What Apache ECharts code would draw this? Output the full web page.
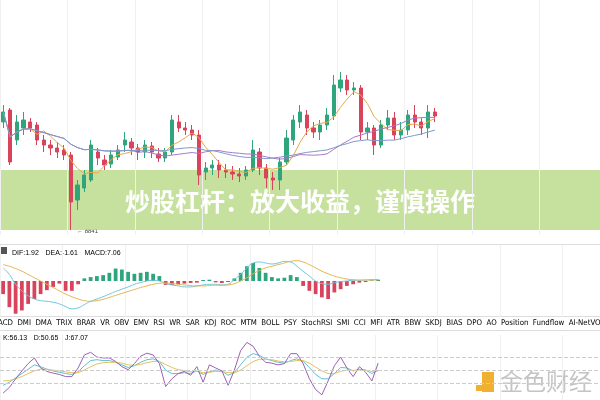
<!DOCTYPE html><html><head><meta charset="utf-8">
<script src="https://cdn.jsdelivr.net/npm/echarts@6/dist/echarts.min.js"></script>
<style>html,body{margin:0;padding:0;background:#fff}#c{width:600px;height:400px}</style></head><body><div id="c"></div>
<script>
// OHLC as [open, close, low, high]
const candles = [
[118,128,112,135],[130,78,75,132],[100,118,95,125],[112,120,105,128],[118,112,108,122],
[115,100,95,118],[100,95,88,105],[95,92,85,100],[92,88,82,98],[90,85,80,95],
[85,38,10,88],[40,55,30,60],[52,65,48,70],[60,95,58,100],[88,82,75,92],
[80,75,70,85],[76,85,72,90],[83,90,80,95],[95,100,88,108],[98,92,85,102],
[92,88,80,96],[88,95,82,100],[94,88,82,98],[86,82,78,92],[82,88,78,92],
[88,120,85,125],[118,112,108,125],[112,110,105,118],[110,105,100,115],[105,65,55,110],
[68,72,60,78],[72,75,65,80],[75,70,62,80],[70,68,62,76],[68,66,60,74],
[66,64,58,72],[64,70,60,74],[70,90,68,100],[88,72,65,92],[72,62,52,76],
[62,60,50,68],[60,78,50,82],[78,102,75,110],[100,120,95,125],[118,128,112,135],
[125,112,105,130],[112,108,102,118],[108,115,100,120],[115,125,110,132],[124,155,120,165],
[152,160,148,168],[160,150,145,165],[150,152,145,158],[152,108,100,155],[108,112,100,118],
[112,95,85,115],[95,115,92,120],[115,122,110,130],[122,105,100,128],[105,110,100,118],
[110,125,105,130],[125,118,112,135],[118,112,105,122],[112,128,102,135],[128,124,118,132]];
const macdHist = [-40,-80,-100,-90,-70,-55,-40,-28,-18,-8,-30,-30,-10,8,12,15,18,25,38,35,28,22,25,28,22,15,-12,-12,-10,-8,-6,-5,3,4,-4,-6,-3,8,25,45,55,40,25,12,8,10,18,12,-15,-30,-40,-50,-55,-35,-25,-15,-10,-5,-3,2,4];
const dif = [40,20,-10,-30,-45,-55,-60,-62,-65,-70,-78,-85,-82,-72,-62,-55,-48,-40,-32,-25,-18,-10,-5,0,2,0,-8,-12,-15,-18,-18,-15,-12,-10,-10,-12,-10,5,20,40,55,58,55,52,55,60,58,45,30,15,0,-8,-10,-5,-2,0,2,2,3,4,5];
const dea = [50,45,38,30,20,10,0,-10,-20,-30,-40,-48,-55,-60,-62,-60,-56,-50,-44,-38,-32,-26,-20,-15,-10,-7,-6,-8,-10,-12,-14,-15,-15,-14,-13,-13,-12,-8,0,10,22,32,40,45,50,55,60,62,58,50,40,30,22,15,10,6,4,3,3,3,4];
const kVals = [15,22,32,42,52,62,58,52,48,45,42,40,46,60,72,74,72,72,68,62,56,60,68,74,76,70,50,42,42,44,42,48,40,46,50,48,38,44,62,80,88,84,76,72,68,66,72,76,70,56,40,30,30,42,56,55,48,52,50,42,50];
const dVals = [25,26,30,35,42,48,52,52,50,48,46,44,44,50,58,64,67,68,68,66,62,61,63,67,70,70,63,56,51,49,46,47,44,45,47,47,44,44,50,60,70,75,75,74,71,69,70,72,72,66,57,48,42,42,47,50,49,50,50,47,48];
const jVals = [-3,10,30,48,65,78,55,47,43,40,35,35,55,85,91,80,78,78,70,58,51,65,82,89,85,65,12,30,42,47,38,58,22,62,55,48,15,50,95,114,105,82,68,66,62,65,88,88,65,30,5,-7,25,60,80,55,35,58,45,25,66];
const tabs = ['MACD','DMI','DMA','TRIX','BRAR','VR','OBV','EMV','RSI','WR','SAR','KDJ','ROC','MTM','BOLL','PSY','StochRSI','SMI','CCI','MFI','ATR','BBW','SKDJ','BIAS','DPO','AO','Position','Fundflow','AI-NetVOL'];

const UP='#2ea57c', DN='#d9435c';
const closes = candles.map(c=>c[1]);
function ma(n){return closes.map((_,i)=>{const s=closes.slice(Math.max(0,i-n+1),i+1);return +(s.reduce((a,b)=>a+b,0)/s.length).toFixed(2);});}
const topSlots = 89, lowSlots = 96;
const cat = n => Array.from({length:n},(_,i)=>i);
const xa = (g,n)=>({type:'category',gridIndex:g,data:cat(n),boundaryGap:true,axisLine:{show:false},axisTick:{show:false},axisLabel:{show:false},splitLine:{show:true,interval:9,lineStyle:{color:'#f1f1f1'}}});
const chart = echarts.init(document.getElementById('c'));
const tabRich = {n:{color:'#555',fontSize:7.8,fontFamily:'DejaVu Sans Condensed'},k:{color:'#bbb',fontSize:7.8,fontFamily:'DejaVu Sans Condensed'}};
chart.setOption({
  animation:false,
  grid:[{left:0,right:0,top:0,height:235},{left:0,right:0,top:245,height:72},{left:0,right:0,top:335,height:65}],
  xAxis:[xa(0,topSlots),xa(1,lowSlots),xa(2,lowSlots)],
  yAxis:[
    {gridIndex:0,min:5,max:240,axisLabel:{show:false},axisLine:{show:false},axisTick:{show:false},splitLine:{show:false}},
    {gridIndex:1,min:-110,max:110,axisLabel:{show:false},axisLine:{show:false},axisTick:{show:false},splitLine:{show:false}},
    {gridIndex:2,min:-19,max:131,interval:30,axisLabel:{show:false},axisLine:{show:false},axisTick:{show:false},
     splitLine:{show:false}}
  ],
  series:[
    {type:'candlestick',xAxisIndex:0,yAxisIndex:0,data:candles.map(c=>[c[0],c[1],c[2],c[3]]),barWidth:'55%',
     itemStyle:{color:UP,color0:DN,borderColor:UP,borderColor0:DN}},
    {type:'line',xAxisIndex:0,yAxisIndex:0,data:ma(5),symbol:'none',lineStyle:{color:'#e8a848',width:1}},
    {type:'line',xAxisIndex:0,yAxisIndex:0,data:ma(20),symbol:'none',lineStyle:{color:'#a878c8',width:1}},
    {type:'line',xAxisIndex:0,yAxisIndex:0,data:ma(30),symbol:'none',lineStyle:{color:'#7f98c8',width:1}},
    {type:'bar',xAxisIndex:1,yAxisIndex:1,barWidth:'60%',data:macdHist.map(v=>({value:v,itemStyle:{color:v>=0?UP:DN}}))},
    {type:'line',xAxisIndex:1,yAxisIndex:1,data:dif,symbol:'none',smooth:true,lineStyle:{color:'#6cc5dc',width:1}},
    {type:'line',xAxisIndex:1,yAxisIndex:1,data:dea,symbol:'none',smooth:true,lineStyle:{color:'#e6b24c',width:1}},
    {type:'line',xAxisIndex:2,yAxisIndex:2,data:kVals,symbol:'none',lineStyle:{color:'#5fc0d0',width:1},
     markLine:{silent:true,symbol:'none',label:{show:false},lineStyle:{color:'#ccc',type:'dashed',width:1},data:[{yAxis:80},{yAxis:50},{yAxis:20}]}},
    {type:'line',xAxisIndex:2,yAxisIndex:2,data:dVals,symbol:'none',lineStyle:{color:'#e6c060',width:1}},
    {type:'line',xAxisIndex:2,yAxisIndex:2,data:jVals,symbol:'none',lineStyle:{color:'#9b5fb5',width:1}}
  ],
  graphic:[
    {type:'line',shape:{x1:0,y1:244.5,x2:600,y2:244.5},style:{stroke:'#ddd'}},
    {type:'line',shape:{x1:0,y1:316.5,x2:600,y2:316.5},style:{stroke:'#ddd'}},
    {type:'line',shape:{x1:0,y1:330.5,x2:600,y2:330.5},style:{stroke:'#ddd'}},
    {type:'text',left:-8,top:319,style:{rich:tabRich,text:tabs.map(t=>t==='KDJ'?'{k|'+t+'}':'{n|'+t+'}').join('{n|  }')}},
    {type:'rect',shape:{x:0,y:247,width:7,height:7},style:{fill:'#555'}},
    {type:'text',left:12,top:247,style:{rich:{a:{color:'#6cc5dc',fontSize:7},b:{color:'#d8b040',fontSize:7},c:{color:'#58b898',fontSize:7}},text:'{a|DIF:1.92}  {b|DEA:-1.61}  {c|MACD:7.06}'}},
    {type:'text',left:3,top:332,style:{rich:{a:{color:'#5fc0d0',fontSize:7},b:{color:'#d8b040',fontSize:7},c:{color:'#9b5fb5',fontSize:7}},text:'{a|K:56.13}  {b|D:50.65}  {c|J:67.07}'}},
    {type:'text',left:77,top:228,style:{text:'← 8841',fill:'#444',fontSize:6}},
    {type:'rect',shape:{x:0,y:170,width:600,height:60},style:{fill:'rgba(185,218,135,0.82)'}},
    {type:'text',x:300,y:201,style:{text:'炒股杠杆：放大收益，谨慎操作',fill:'#fff',fontSize:25,fontWeight:'bold',fontFamily:'Noto Sans CJK SC',textAlign:'center',textVerticalAlign:'middle'}},
    {type:'rect',shape:{x:482,y:372,width:12,height:20},style:{fill:'#f0b030'}},
    {type:'rect',shape:{x:476,y:385,width:6,height:6},style:{fill:'#f0b030'}},
    {type:'text',left:500,top:370,style:{text:'金色财经',fill:'#c4c4c4',fontSize:23,fontFamily:'Noto Sans CJK SC'}}
  ]
});
</script></body></html>
